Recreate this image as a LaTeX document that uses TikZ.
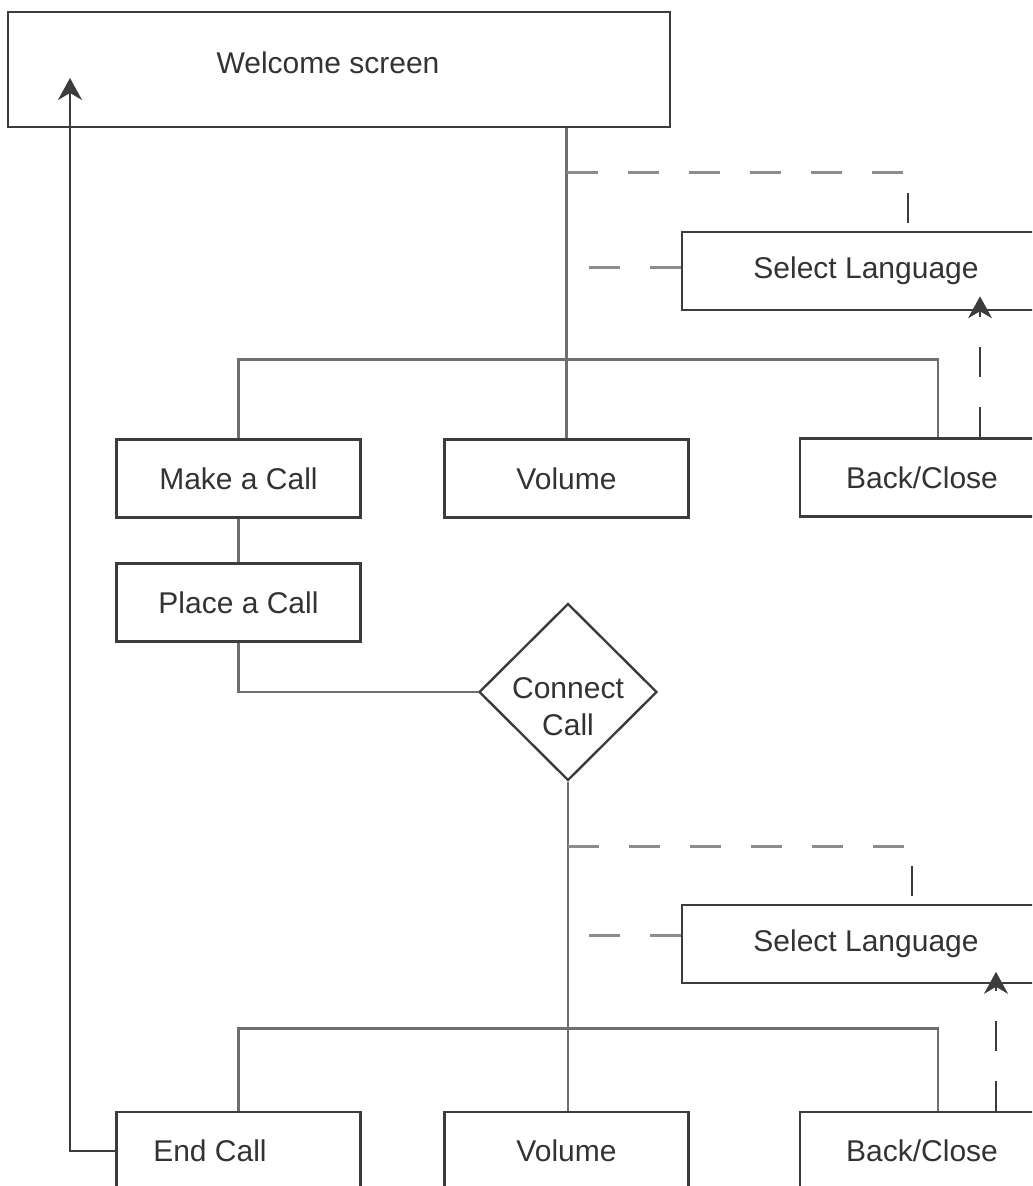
\documentclass[tikz,border=0pt]{standalone}
\usepackage{fontspec}
\setmainfont{Liberation Sans}
\usetikzlibrary{shapes.geometric,arrows.meta}

\definecolor{boxline}{HTML}{3C3C3C}
\definecolor{linkgray}{HTML}{6E6E6E}
\definecolor{dashgray}{HTML}{8C8C8C}
\definecolor{txt}{HTML}{333333}

\begin{document}
\begin{tikzpicture}[x=0.5pt,y=-0.5pt,
    font=\fontsize{15}{18.5}\selectfont, text=txt,
    box/.style={draw=boxline,line width=1.2pt,rectangle,inner sep=0pt,
      minimum width=122pt,minimum height=39pt},
    decision/.style={draw=boxline,line width=1.2pt,diamond,inner sep=0pt,
      minimum width=89pt,minimum height=88.5pt},
    link/.style={draw=linkgray,line width=1.4pt},
    optlink/.style={draw=dashgray,line width=1.5pt,dash pattern=on 15.5pt off 15pt},
    optdrop/.style={draw=boxline,line width=0.9pt,dash pattern=on 15pt off 15pt,dash phase=20pt},
    backlink/.style={draw=boxline,line width=0.9pt,dash pattern=on 15pt off 15pt,
      -{Stealth[length=11pt,width=12pt,inset=3.5pt]}},
    retlink/.style={draw=boxline,line width=1.2pt,
      -{Stealth[length=11pt,width=12pt,inset=3.5pt]}}]
  \useasboundingbox (0,0) rectangle (1032,1186);
  \clip (0,0) rectangle (1032,1186);

  \node[box,minimum width=331pt,minimum height=57.5pt,
    label={[xshift=-5.5pt,yshift=3.25pt,text=txt]center:Welcome screen}] (welcome) at (339,69.5) {};

  % first menu
  \node[box,minimum width=184pt] (lang1) at (866,271) {Select Language};
  \node[box] (make1) at (238.5,478.5) {Make a Call};
  \node[box] (vol1) at (566.5,478.5) {Volume};
  \node[box] (back1) at (922,477.5) {Back/Close};
  \node[box] (place) at (238.5,602.5) {Place a Call};
  \node[decision,label={[yshift=-7.5pt,align=center,text=txt]center:Connect\\Call}] (connect) at (568,692) {};

  % second menu
  \node[box,minimum width=184pt] (lang2) at (866,944) {Select Language};
  \node[box,label={[xshift=-14.25pt,text=txt]center:End Call}] (endcall) at (238.5,1151) {};
  \node[box] (vol2) at (566.5,1151) {Volume};
  \node[box] (back2) at (922,1151) {Back/Close};

  \coordinate (tap1) at (566.5,173);
  \coordinate (corner1) at (908,173);
  \coordinate (tap2) at (568,846);
  \coordinate (corner2) at (912,846);
  \coordinate (home) at (70,78);

  \draw[link] (vol1.north |- welcome.south) -- (vol1.north);
  \draw[link] (make1.north) -- ++(0,-79) -| ([xshift=8pt]back1.north);
  \draw[link] (make1.south) -- (place.north);
  \draw[link] (place.south) |- (connect.west);
  \draw[link] (connect.south) -- (connect.south |- vol2.north);
  \draw[link] (endcall.north) -- ++(0,-82) -| ([xshift=8pt]back2.north);

  \draw[optlink] (tap1) -- (corner1);
  \draw[optdrop] (corner1) -- (corner1 |- lang1.north);
  \draw[optlink] ([yshift=1.5pt]lang1.west) -- ++(-92,0);
  \draw[backlink] ([xshift=29pt]back1.north) -- ++(0,-141);

  \draw[optlink] (tap2) -- (corner2);
  \draw[optdrop] (corner2) -- (corner2 |- lang2.north);
  \draw[optlink] ([yshift=4.5pt]lang2.west) -- ++(-92,0);
  \draw[backlink] ([xshift=37pt]back2.north) -- ++(0,-139);

  \draw[retlink] (endcall.west) -| (home);
\end{tikzpicture}
\end{document}
